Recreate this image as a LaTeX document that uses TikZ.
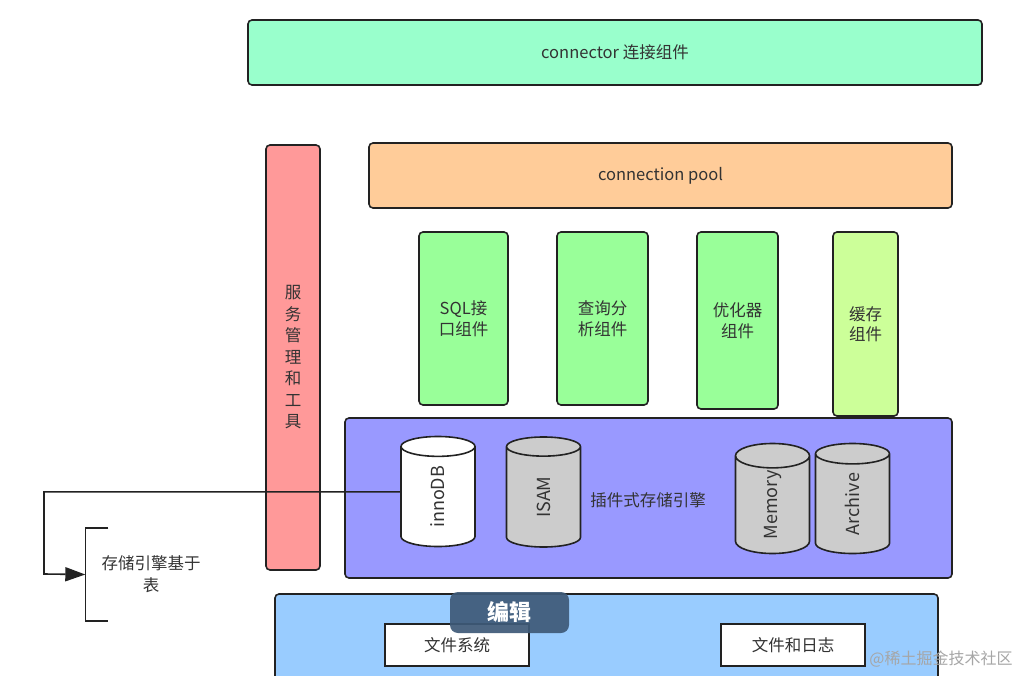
\documentclass[tikz,border=0pt]{standalone}
\usepackage{fontspec}
\setmainfont{Noto Sans CJK SC}
\usetikzlibrary{shapes.geometric,arrows.meta}
\definecolor{mintfill}{HTML}{99FFCC}
\definecolor{peachfill}{HTML}{FFCC99}
\definecolor{pinkfill}{HTML}{FF9999}
\definecolor{greenfill}{HTML}{99FF99}
\definecolor{limefill}{HTML}{CCFF99}
\definecolor{violetfill}{HTML}{9999FF}
\definecolor{skyfill}{HTML}{99CCFF}
\definecolor{greyfill}{HTML}{CCCCCC}
\definecolor{linecol}{HTML}{222222}
\definecolor{textcol}{HTML}{333333}
\definecolor{editfill}{HTML}{3E5A78}
\begin{document}
\begin{tikzpicture}[x=1pt,y=-1pt,
    box/.style={draw=linecol,line width=1.6pt,rounded corners=4pt,inner sep=0pt,
      text=textcol,align=center,font=\fontsize{16.5}{20.5}\selectfont},
    filebox/.style={draw=linecol,line width=1.6pt,fill=white,inner sep=0pt,
      minimum width=144pt,minimum height=42pt,text=textcol,
      font=\fontsize{16.5}{20}\selectfont},
    db/.style={cylinder,draw=linecol,line width=1.6pt,rotate=90,anchor=shape center,
      minimum width=74pt,minimum height=110pt,aspect=1.4,inner sep=0pt,
      text=textcol,font=\fontsize{18}{20}\selectfont}]
    \clip (0,0) rectangle (1027,676);

    \node [box,fill=mintfill,minimum width=734pt,minimum height=65pt] (conn) at (615,52.5) {connector 连接组件};
    \node [box,fill=peachfill,minimum width=583pt,minimum height=65pt] (pool) at (660.5,175.5) {connection pool};
    \node [box,fill=pinkfill,minimum width=54pt,minimum height=425pt,
      font=\fontsize{16.5}{21.5}\selectfont] (tools) at (293,357.5) {服\\务\\管\\理\\和\\工\\具};

    \node [box,fill=greenfill,minimum width=89pt,minimum height=173pt] (sql) at (463.5,318.5) {SQL接\\口组件};
    \node [box,fill=greenfill,minimum width=91pt,minimum height=173pt] (parse) at (602.5,318.5) {查询分\\析组件};
    \node [box,fill=greenfill,minimum width=81pt,minimum height=177pt] (optim) at (737.5,320.5) {优化器\\组件};
    \node [box,fill=limefill,minimum width=65pt,minimum height=184pt] (cache) at (865.5,324) {缓存\\组件};

    \node [box,fill=violetfill,minimum width=607pt,minimum height=160pt] (engine) at (648.5,498) {};
    \node [text=textcol,font=\fontsize{16.5}{20}\selectfont] (plug) at (648,500) {插件式存储引擎};
    \node [db,fill=white] (inno) at (438,491.5) {innoDB};
    \node [db,fill=greyfill] (isam) at (543.5,492) {ISAM};
    \node [db,fill=greyfill] (mem) at (772.5,498.5) {Memory};
    \node [db,fill=greyfill] (arch) at (852.5,498.5) {Archive};

    \node [box,fill=skyfill,minimum width=663pt,minimum height=140pt] (files) at (606.5,664) {};
    \node [filebox] (fs) at (457,645) {文件系统};
    \node [filebox] (logs) at (793,645) {文件和日志};

    \node [text=textcol,align=center,inner xsep=16pt,inner ysep=0pt,minimum height=93pt,
      font=\fontsize{16.5}{22}\selectfont] (tbl) at (151,574.5) {存储引擎基于\\表};
    \draw [linecol,line width=1.6pt] (tbl.north west) ++(23,0) -- (tbl.north west)
      -- (tbl.south west) -- ++(23,0);

    \coordinate (turn) at (44,574);
    \draw [linecol,line width=1.6pt,-{Triangle[length=20pt,width=14pt]}]
      ([yshift=5pt]inno.north) -| (turn) -- (tbl.west);

    \node [fill=editfill,fill opacity=0.92,text opacity=1,text=white,rounded corners=8pt,
      minimum width=119pt,minimum height=41pt,inner sep=0pt,
      font=\fontsize{22}{24}\selectfont\bfseries] (edit) at (509.5,612.5) {编辑};
    \node [text=black!35,font=\fontsize{16}{18}\selectfont,inner sep=0pt] (mark) at (941,659) {@稀土掘金技术社区};
\end{tikzpicture}
\end{document}
